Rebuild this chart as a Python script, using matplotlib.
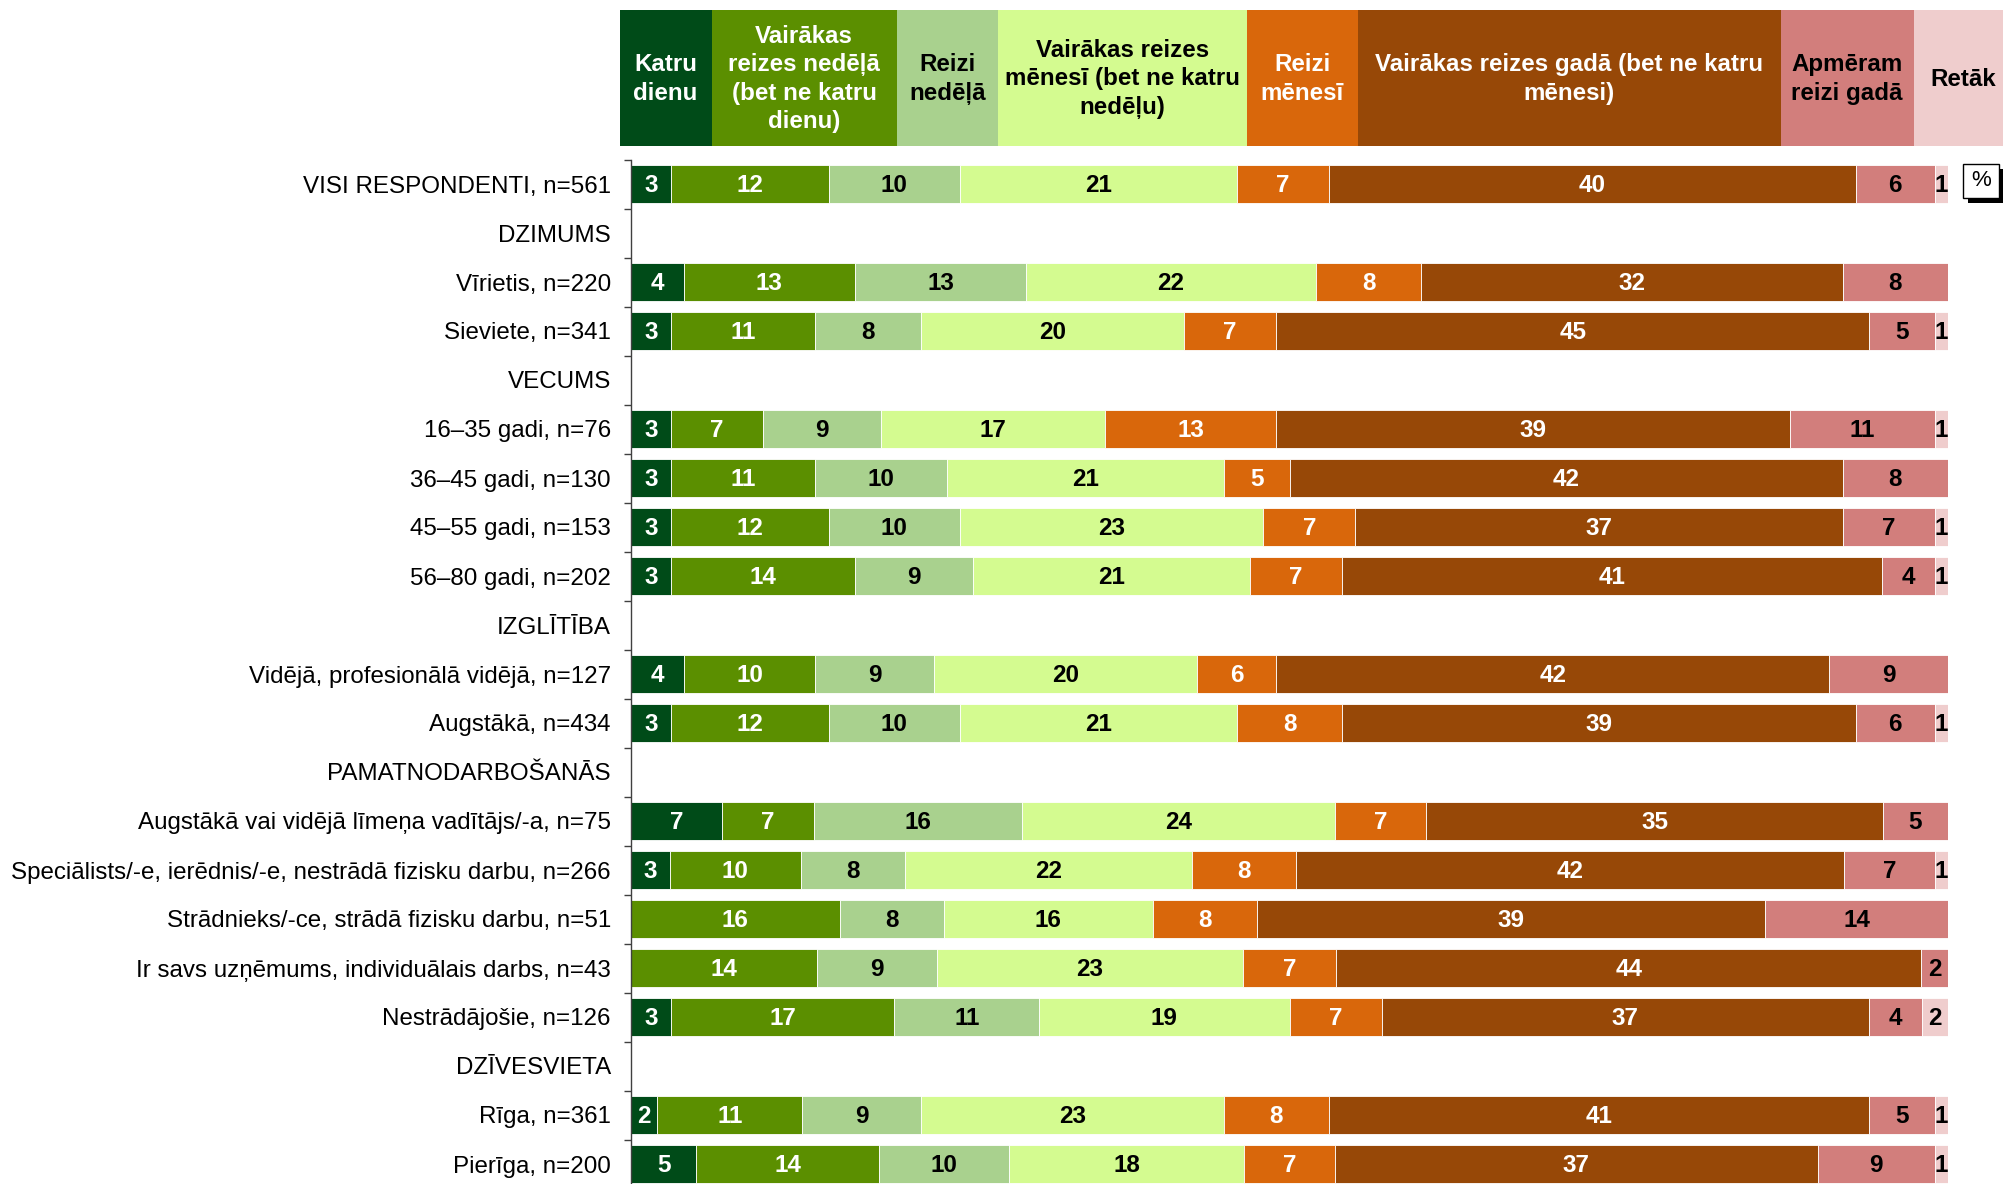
import matplotlib
matplotlib.use('Agg')
import matplotlib.pyplot as plt
import numpy as np
from matplotlib.patches import Rectangle

plt.rcParams['font.family'] = ['Liberation Sans Narrow', 'Liberation Sans', 'DejaVu Sans']

# ---------------- data ----------------
row_labels = [
    "VISI RESPONDENTI, n=561", "DZIMUMS", "Vīrietis, n=220", "Sieviete, n=341",
    "VECUMS", "16–35 gadi, n=76", "36–45 gadi, n=130", "45–55 gadi, n=153",
    "56–80 gadi, n=202", "IZGLĪTĪBA", "Vidējā, profesionālā vidējā, n=127",
    "Augstākā, n=434", "PAMATNODARBOŠANĀS",
    "Augstākā vai vidējā līmeņa vadītājs/-a, n=75",
    "Speciālists/-e, ierēdnis/-e, nestrādā fizisku darbu, n=266",
    "Strādnieks/-ce, strādā fizisku darbu, n=51",
    "Ir savs uzņēmums, individuālais darbs, n=43",
    "Nestrādājošie, n=126", "DZĪVESVIETA", "Rīga, n=361", "Pierīga, n=200",
]

series_names = [
    "Katru\ndienu",
    "Vairākas\nreizes nedēļā\n(bet ne katru\ndienu)",
    "Reizi\nnedēļā",
    "Vairākas reizes\nmēnesī (bet ne katru\nnedēļu)",
    "Reizi\nmēnesī",
    "Vairākas reizes gadā (bet ne katru\nmēnesi)",
    "Apmēram\nreizi gadā",
    "Retāk",
]

N = None
katru_dienu   = [3, N, 4, 3, N, 3, 3, 3, 3, N, 4, 3, N, 7, 3, 0, 0, 3, N, 2, 5]
vair_nedela   = [12, N, 13, 11, N, 7, 11, 12, 14, N, 10, 12, N, 7, 10, 16, 14, 17, N, 11, 14]
reizi_nedela  = [10, N, 13, 8, N, 9, 10, 10, 9, N, 9, 10, N, 16, 8, 8, 9, 11, N, 9, 10]
vair_menesi   = [21, N, 22, 20, N, 17, 21, 23, 21, N, 20, 21, N, 24, 22, 16, 23, 19, N, 23, 18]
reizi_menesi  = [7, N, 8, 7, N, 13, 5, 7, 7, N, 6, 8, N, 7, 8, 8, 7, 7, N, 8, 7]
vair_gada     = [40, N, 32, 45, N, 39, 42, 37, 41, N, 42, 39, N, 35, 42, 39, 44, 37, N, 41, 37]
reizi_gada    = [6, N, 8, 5, N, 11, 8, 7, 4, N, 9, 6, N, 5, 7, 14, 2, 4, N, 5, 9]
retak         = [1, N, 0, 1, N, 1, 0, 1, 1, N, 0, 1, N, 0, 1, 0, 0, 2, N, 1, 1]

series = [katru_dienu, vair_nedela, reizi_nedela, vair_menesi,
          reizi_menesi, vair_gada, reizi_gada, retak]

# ---------------- style ----------------
colors = ["#004B18", "#5B8F00", "#A9D18E", "#D4FB90",
          "#D9670B", "#974807", "#D27E7C", "#EFCDCD"]
text_colors = ["white", "white", "black", "black",
               "white", "white", "black", "black"]

W, H = 2003, 1184
fig = plt.figure(figsize=(W / 100, H / 100), dpi=100)

# axes geometry (pixels)
ax_left, ax_right = 631, 1948
ax_top, row_h = 159.5, 49.0
n_rows = len(row_labels)
ax_bottom = ax_top + n_rows * row_h
ax = fig.add_axes([ax_left / W, 1 - ax_bottom / H,
                   (ax_right - ax_left) / W, (ax_bottom - ax_top) / H])

y = np.arange(n_rows)
data = np.array([[np.nan if v is None else v for v in s] for s in series], dtype=float)
totals = np.nansum(data, axis=0)
left = np.zeros(n_rows)
for k in range(len(series)):
    vals = data[k]
    for i in range(n_rows):
        if np.isnan(vals[i]) or vals[i] == 0:
            continue
        w = vals[i] / totals[i] * 100
        ax.barh(y[i], w, left=left[i], height=0.78, color=colors[k],
                edgecolor="white", linewidth=0.6)
        ax.text(left[i] + w / 2, y[i] + 0.03, f"{int(vals[i])}", ha="center",
                va="center", color=text_colors[k], fontsize=17.5, fontweight="bold")
        left[i] += w

ax.set_xlim(0, 100)
ax.set_ylim(n_rows - 0.5, -0.5)
ax.set_xticks([])
ax.set_yticks(y)
ax.set_yticklabels(row_labels, fontsize=17.4)
ax.set_yticks(np.arange(n_rows + 1) - 0.5, minor=True)
ax.tick_params(axis="y", which="major", length=0, pad=14.5)
ax.tick_params(axis="y", which="minor", length=5, color="#404040", width=1)
for s in ["top", "right", "bottom"]:
    ax.spines[s].set_visible(False)
ax.spines["left"].set_color("#404040")
ax.spines["left"].set_linewidth(1)
ax.patch.set_alpha(0)

# ---------------- header legend boxes ----------------
edges = [619.5, 711.5, 896.7, 997.7, 1246.7, 1357.9, 1780.7, 1913.5, 2013]
hy0, hy1 = 10, 146
for k, name in enumerate(series_names):
    x0, x1 = edges[k], edges[k + 1]
    fig.patches.append(Rectangle((x0 / W, 1 - hy1 / H), (x1 - x0) / W, (hy1 - hy0) / H,
                                 transform=fig.transFigure, facecolor=colors[k],
                                 edgecolor="none"))
    fig.text((x0 + x1) / 2 / W, 1 - ((hy0 + hy1) / 2 + 1) / H, name, ha="center",
             va="center", color=text_colors[k], fontsize=17.4, fontweight="bold",
             linespacing=1.3)

# ---------------- % box ----------------
bx0, by0, bx1, by1 = 1963, 164, 1999, 198
off = 5
fig.patches.append(Rectangle(((bx0 + off) / W, 1 - (by1 + off) / H), (bx1 - bx0) / W,
                             (by1 - by0) / H, transform=fig.transFigure,
                             facecolor="black", edgecolor="none"))
fig.patches.append(Rectangle((bx0 / W, 1 - by1 / H), (bx1 - bx0) / W, (by1 - by0) / H,
                             transform=fig.transFigure, facecolor="white",
                             edgecolor="black", linewidth=1))
fig.text((bx0 + bx1) / 2 / W, 1 - (by0 + by1) / 2 / H, "%", ha="center", va="center",
         fontsize=16, color="black", family=["Liberation Sans", "DejaVu Sans"])

fig.savefig("out.png", dpi=100)
